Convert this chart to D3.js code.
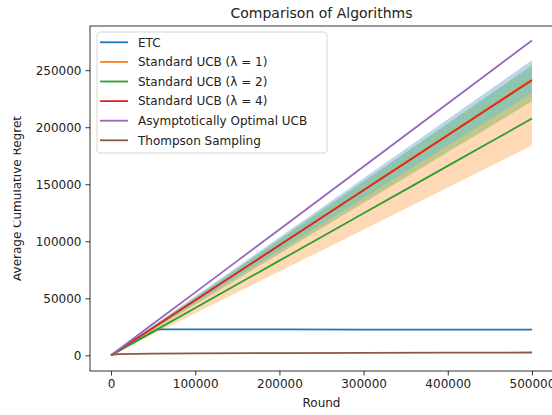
<!DOCTYPE html>
<html>
<head>
<meta charset="utf-8">
<script src="https://cdn.jsdelivr.net/npm/d3@7"></script>
<style>
  html, body { margin: 0; padding: 0; background: #fff; }
  svg { display: block; font-family: "DejaVu Sans", sans-serif; }
</style>
</head>
<body>
<svg id="chart" width="552" height="415"></svg>
<script>
// ---------------- data ----------------
const seriesNames = ["ETC", "Standard UCB (λ = 1)", "Standard UCB (λ = 2)", "Standard UCB (λ = 4)", "Asymptotically Optimal UCB", "Thompson Sampling"];
const seriesColors = ["#1f77b4", "#ff7f0e", "#2ca02c", "#d62728", "#9467bd", "#8c564b"];

const rounds = [0, 50000, 100000, 150000, 200000, 250000, 300000, 350000, 400000, 450000, 500000];

const etcRounds = [0, 55000, 100000, 200000, 300000, 400000, 500000];
const etcMean = [0, 22800, 22700, 22800, 22600, 22600, 22500];

const ucb1Mean = [0, 24200, 48400, 72600, 96800, 121000, 145200, 169400, 193600, 217800, 242000];
const ucb1Low  = [0, 23000, 46000, 69000, 92000, 115000, 138000, 161000, 184000, 207000, 230000];
const ucb1High = [0, 25900, 51800, 77600, 103500, 129400, 155300, 181200, 207000, 232900, 258800];

const ucb2Mean = [0, 20800, 41500, 62300, 83000, 103800, 124600, 145300, 166100, 186800, 207600];
const ucb2Low  = [0, 18400, 36800, 55200, 73600, 92000, 110400, 128800, 147200, 165600, 184000];
const ucb2High = [0, 23000, 46000, 69100, 92100, 115100, 138100, 161100, 184200, 207200, 230200];

const ucb4Mean = [0, 24100, 48200, 72400, 96500, 120600, 144700, 168800, 193000, 217100, 241200];
const ucb4Low  = [0, 22300, 44600, 66800, 89100, 111400, 133700, 156000, 178200, 200500, 222800];
const ucb4High = [0, 25400, 50800, 76200, 101600, 127100, 152500, 177900, 203300, 228700, 254100];

const aoMean = [0, 27600, 55200, 82800, 110400, 138000, 165600, 193200, 220800, 248400, 276000];

const tsRounds = [0, 2000, 10000, 50000, 100000, 200000, 300000, 400000, 500000];
const tsMean = [0, 700, 1100, 1500, 1750, 2000, 2200, 2350, 2450];

const xTicks = [0, 100000, 200000, 300000, 400000, 500000];
const yTicks = [0, 50000, 100000, 150000, 200000, 250000];

const titleText = "Comparison of Algorithms";
const xLabelText = "Round";
const yLabelText = "Average Cumulative Regret";

// ---------------- layout ----------------
const svg = d3.select("#chart");
const plotLeft = 90, plotRight = 553, plotTop = 26, plotBottom = 371;

const x = d3.scaleLinear().domain([-25000, 525000]).range([plotLeft, plotRight]);
const y = d3.scaleLinear().domain([-13750, 288750]).range([plotBottom, plotTop]);

const zip = (xs, ys) => xs.map((v, i) => [v, ys[i]]);

// bands (fill cycle: blue, orange, green)
const bands = [
  { lo: ucb1Low, hi: ucb1High, color: "#1f77b4" },
  { lo: ucb2Low, hi: ucb2High, color: "#ff7f0e" },
  { lo: ucb4Low, hi: ucb4High, color: "#2ca02c" }
];
const area = d3.area().x(d => x(d.r)).y0(d => y(d.lo)).y1(d => y(d.hi));
const plotG = svg.append("g");
bands.forEach(b => {
  const pts = rounds.map((r, i) => ({ r, lo: b.lo[i], hi: b.hi[i] }));
  plotG.append("path").attr("d", area(pts)).attr("fill", b.color).attr("fill-opacity", 0.3).attr("stroke", "none");
});

// lines
const lineGen = d3.line().x(d => x(d[0])).y(d => y(d[1]));
const lineData = [
  zip(etcRounds, etcMean),
  zip(rounds, ucb1Mean),
  zip(rounds, ucb2Mean),
  zip(rounds, ucb4Mean),
  zip(rounds, aoMean),
  zip(tsRounds, tsMean)
];
lineData.forEach((d, i) => {
  plotG.append("path").attr("d", lineGen(d)).attr("fill", "none")
    .attr("stroke", seriesColors[i]).attr("stroke-width", 1.8).attr("stroke-linejoin", "round");
});

// axes
const xAxis = d3.axisBottom(x).tickValues(xTicks).tickFormat(d3.format("d")).tickSize(4.5).tickPadding(4);
const yAxis = d3.axisLeft(y).tickValues(yTicks).tickFormat(d3.format("d")).tickSize(4.5).tickPadding(4);

const gx = svg.append("g").attr("transform", `translate(0,${plotBottom})`).call(xAxis);
const gy = svg.append("g").attr("transform", `translate(${plotLeft},0)`).call(yAxis);
[gx, gy].forEach(g => {
  g.select(".domain").remove();
  g.selectAll(".tick line").attr("stroke", "#000").attr("stroke-width", 0.8);
  g.selectAll(".tick text").attr("fill", "#222").attr("font-size", 12).attr("font-family", "DejaVu Sans, sans-serif");
});

// spines
svg.append("rect").attr("x", plotLeft).attr("y", plotTop).attr("width", plotRight - plotLeft).attr("height", plotBottom - plotTop)
  .attr("fill", "none").attr("stroke", "#000").attr("stroke-width", 0.8);

// title & labels
svg.append("text").attr("x", (plotLeft + plotRight) / 2).attr("y", 18).attr("text-anchor", "middle")
  .attr("font-size", 14).attr("fill", "#222").text(titleText);
svg.append("text").attr("x", (plotLeft + plotRight) / 2).attr("y", 407).attr("text-anchor", "middle")
  .attr("font-size", 12).attr("fill", "#222").text(xLabelText);

svg.append("clipPath").attr("id", "ylabClip").append("rect").attr("x", 13.5).attr("y", 0).attr("width", 40).attr("height", 415);
svg.append("g").attr("clip-path", "url(#ylabClip)")
  .append("text").attr("transform", `translate(20.5,${(plotTop + plotBottom) / 2}) rotate(-90)`).attr("text-anchor", "middle")
  .attr("font-size", 12).attr("fill", "#222").text(yLabelText);

// legend
const lg = svg.append("g");
lg.append("rect").attr("x", 97).attr("y", 32).attr("width", 230).attr("height", 121).attr("rx", 3)
  .attr("fill", "#fff").attr("fill-opacity", 0.8).attr("stroke", "#ccc").attr("stroke-width", 0.8);
seriesNames.forEach((name, i) => {
  const cy = 42.3 + i * 19.6;
  lg.append("line").attr("x1", 100).attr("x2", 128).attr("y1", cy).attr("y2", cy)
    .attr("stroke", seriesColors[i]).attr("stroke-width", 1.8);
  lg.append("text").attr("x", 138).attr("y", cy + 4.3).attr("font-size", 12).attr("fill", "#222").text(name);
});
</script>
</body>
</html>
